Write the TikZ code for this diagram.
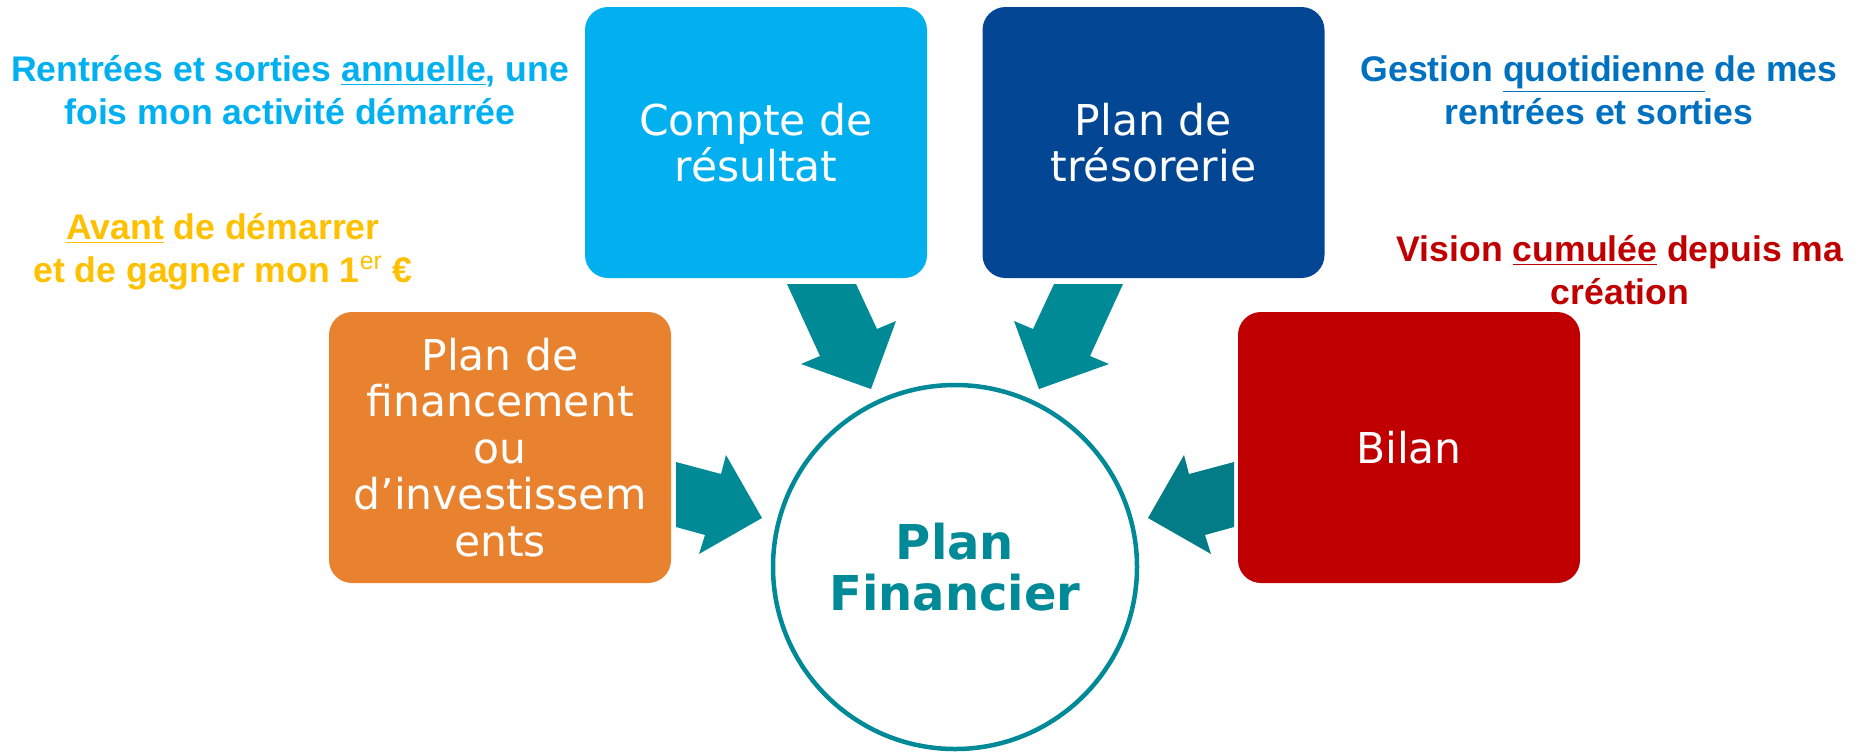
\documentclass[tikz,border=0pt]{standalone}
\usepackage{fontspec}
\setmainfont{DejaVu Sans}
\newfontfamily\arialfont{Liberation Sans}
\definecolor{boxcyan}{HTML}{02B0F0}
\definecolor{boxnavy}{HTML}{034694}
\definecolor{boxorange}{HTML}{E8822E}
\definecolor{boxred}{HTML}{C00000}
\definecolor{notecyan}{HTML}{00B0F0}
\definecolor{noteblue}{HTML}{0070C0}
\definecolor{noteamber}{HTML}{FFC000}
\definecolor{planteal}{HTML}{008996}
\definecolor{arrowteal}{HTML}{008A96}
\definecolor{arrowdark}{HTML}{037C88}

\begin{document}
\begin{tikzpicture}[x=0.5pt,y=-0.5pt,
    box/.style={rounded corners=11.5pt,minimum width=171pt,minimum height=135.5pt,
        inner sep=0pt,text=white,align=center,
        font=\fontsize{21.25pt}{23.25pt}\selectfont},
    note/.style={anchor=base,align=center,
        font=\arialfont\bfseries\fontsize{17.8pt}{21.5pt}\selectfont}]
    \useasboundingbox (0,0) rectangle (1862,752);
    % the four statements
    \node[box,fill=boxcyan] (resultat) at (756,142.5) {Compte de\\résultat};
    \node[box,fill=boxnavy] (tresorerie) at (1153.5,142.5) {Plan de\\trésorerie};
    \node[box,fill=boxorange] (financement) at (500,447.5)
        {Plan de\\financement\\ou\\d’investissem\\ents};
    \node[box,fill=boxred] (bilan) at (1409,447.5) {Bilan};
    % block arrows towards the plan
    \fill[arrowteal] (787,284) -- (856,284) -- (877,329) -- (896,321)
        -- (871,389) -- (801,364) -- (820,356) -- cycle;
    \fill[arrowteal] (1123,284) -- (1054,284) -- (1033,329) -- (1014,321)
        -- (1039,389) -- (1109,364) -- (1090,356) -- cycle;
    \fill[arrowteal] (676,462) -- (721,474) -- (726,455) -- (762,518)
        -- (699,554) -- (705,535) -- (676,527) -- cycle;
    \fill[arrowdark] (1234,462) -- (1189,474) -- (1184,455) -- (1148,518)
        -- (1211,554) -- (1205,535) -- (1234,527) -- cycle;
    \node[circle,draw=planteal,line width=2.25pt,fill=white,minimum size=182pt,
        inner sep=0pt,align=center,text=planteal,
        font=\bfseries\fontsize{24pt}{25.5pt}\selectfont] (plan) at (955,567)
        {Plan\\Financier};
    % notes (anchored on the last line)
    \node[note,text=notecyan] (annuel) at (290,124)
        {Rentrées et sorties \underline{annuelle}, une\\fois mon activité démarrée};
    \node[note,text=noteamber] (avant) at (223,282)
        {\underline{Avant} de démarrer\\et de gagner mon 1\textsuperscript{\mdseries er} €};
    \node[note,text=noteblue] (quotidien) at (1599,124)
        {Gestion \underline{quotidienne} de mes\\rentrées et sorties};
    \node[note,text=boxred] (cumul) at (1620,304)
        {Vision \underline{cumulée} depuis ma\\création};
\end{tikzpicture}
\end{document}
